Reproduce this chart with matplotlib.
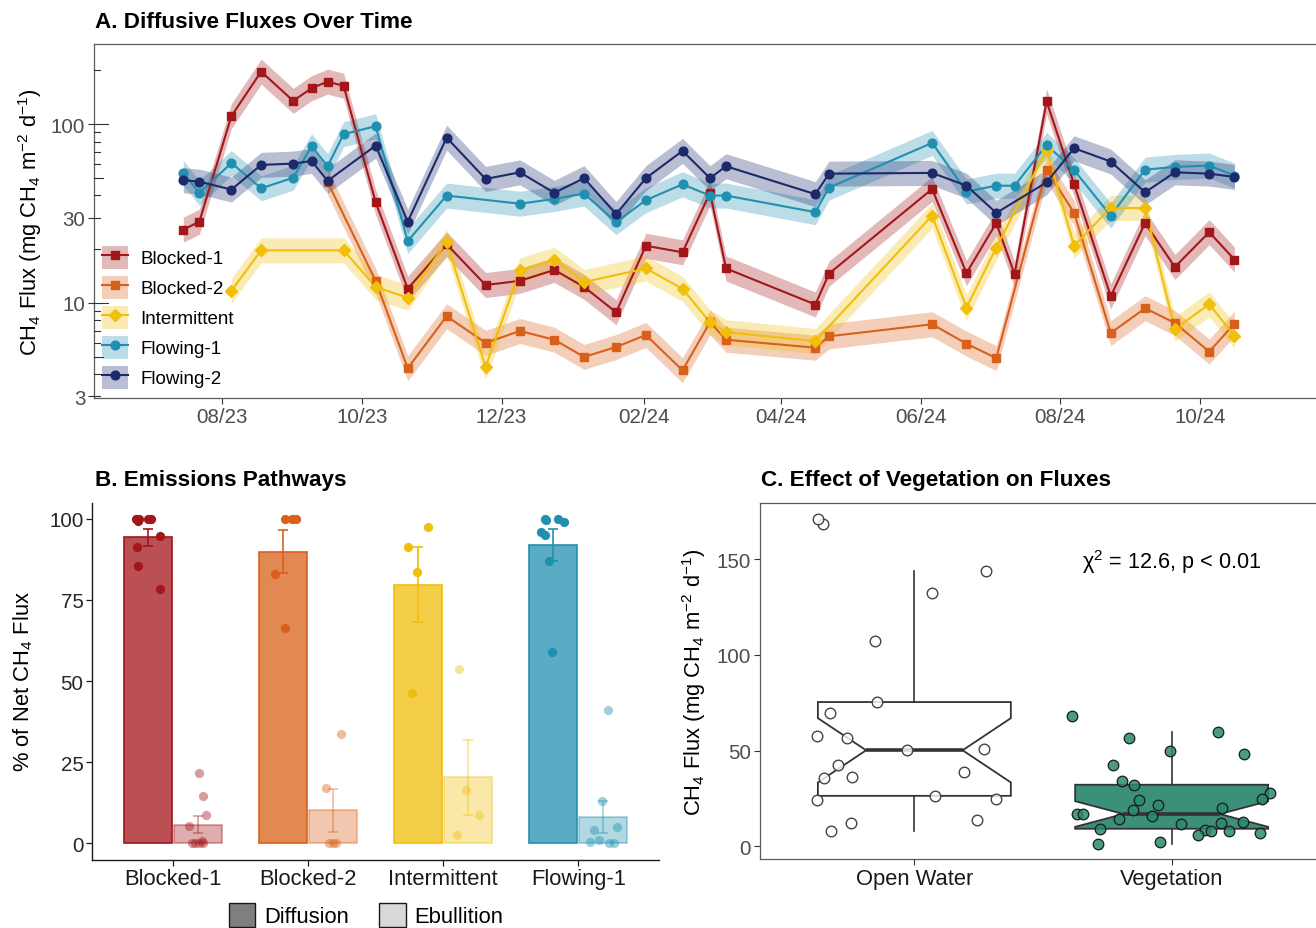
import numpy as np
import matplotlib
matplotlib.use("Agg")
import matplotlib.pyplot as plt
import matplotlib.dates as mdates
import matplotlib.ticker as mticker
from matplotlib.colors import to_rgba
from matplotlib.lines import Line2D
from matplotlib.patches import Patch
from matplotlib.transforms import blended_transform_factory

plt.rcParams["font.family"] = ["Liberation Sans", "DejaVu Sans"]
plt.rcParams["mathtext.fontset"] = "custom"
plt.rcParams["mathtext.rm"] = "Liberation Sans"
plt.rcParams["mathtext.it"] = "Liberation Sans:italic"
plt.rcParams["mathtext.bf"] = "Liberation Sans:bold"
plt.rcParams["mathtext.default"] = "regular"

nan = np.nan

# ---------------------------------------------------------------------------
# A. diffusive CH4 flux per sampling date (mg CH4 m-2 d-1)
# ---------------------------------------------------------------------------
sample_dates = ["2023-07-15", "2023-07-22", "2023-08-05", "2023-08-18", "2023-09-01",
                "2023-09-09", "2023-09-16", "2023-09-23", "2023-10-07", "2023-10-21",
                "2023-11-07", "2023-11-24", "2023-12-09", "2023-12-24", "2024-01-06",
                "2024-01-20", "2024-02-02", "2024-02-18", "2024-03-01", "2024-03-08",
                "2024-04-16", "2024-04-22", "2024-06-06", "2024-06-21", "2024-07-04",
                "2024-07-12", "2024-07-26", "2024-08-07", "2024-08-23", "2024-09-07",
                "2024-09-20", "2024-10-05", "2024-10-16"]

blocked1 = [25.7, 28.5, 111, 197, 135, 159, 173, 164, 36.6, 12.0,
            21.3, 12.6, 13.3, 15.3, 12.3, 8.87, 20.9, 19.2, 41.3, 15.6,
            9.8, 14.6, 43.4, 14.7, 28.0, 14.5, 134, 46.1, 10.9, 28.0,
            15.9, 24.9, 17.5]
blocked2 = [nan, nan, nan, nan, nan, nan, 47.5, nan, 13.3, 4.31,
            8.43, 5.98, 6.97, 6.23, 4.99, 5.67, 6.62, 4.20, 7.80, 6.23,
            5.62, 6.51, 7.60, 5.92, 4.91, nan, 55.7, 31.9, 6.79, 9.34,
            7.73, 5.34, 7.66]
intermittent = [nan, nan, 11.7, 19.7, nan, nan, nan, 19.7, 12.3, 10.7,
                21.9, 4.38, 15.2, 17.5, 13.1, nan, 15.6, 12.0, 7.80, 6.86,
                6.12, nan, 30.8, 9.42, 20.4, nan, 72.1, 20.9, 34.1, 33.9,
                7.16, 9.83, 6.56]
flowing1 = [53.4, 41.3, 60.7, 43.8, 50.2, 75.3, 58.2, 87.9, 97.5, 22.2,
            39.9, nan, 35.9, 38.2, 40.9, 28.3, 37.6, 46.1, 39.9, 39.9,
            32.2, 44.2, 78.6, 42.0, 45.3, 45.3, 76.6, 55.3, 30.8, 55.7,
            57.7, 58.7, 51.6]
flowing2 = [48.6, 47.7, 43.1, 59.2, 60.2, 62.3, 48.2, nan, 75.9, 28.5,
            84.1, 49.4, 53.8, 41.3, 49.9, 31.4, 49.9, 70.9, 49.9, 58.2,
            40.6, 52.9, 53.4, 45.3, 31.9, nan, 47.3, 73.4, 61.8, 41.6,
            53.8, 52.9, 50.7]

site_names = ["Blocked-1", "Blocked-2", "Intermittent", "Flowing-1", "Flowing-2"]
site_colors = ["#A3161A", "#D9601A", "#F1BE0A", "#2190B0", "#1C2A6B"]
site_markers = ["s", "s", "D", "o", "o"]

# ---------------------------------------------------------------------------
# B. share of net flux released by diffusion (%), ebullition is the remainder
# ---------------------------------------------------------------------------
pathway_sites = ["Blocked-1", "Blocked-2", "Intermittent", "Flowing-1"]
blocked1_diffusion = [99.3, 99.8, 100, 99.8, 99.9, 94.7, 91.3, 85.5, 78.3]
blocked2_diffusion = [100, 100, 100, 82.9, 66.4]
intermittent_diffusion = [97.6, 91.2, 83.7, 46.3]
flowing1_diffusion = [100, 100, 99.0, 99.5, 95.9, 94.9, 87.1, 58.8]

# ---------------------------------------------------------------------------
# C. fluxes from open water vs vegetated patches (mg CH4 m-2 d-1)
# ---------------------------------------------------------------------------
habitat_names = ["Open Water", "Vegetation"]
open_water_flux = [168.3, 171.1, 143.9, 132.2, 107.1, 75.4, 69.8, 56.8, 57.5, 50.9,
                   50.2, 42.3, 39.0, 36.2, 35.5, 26.4, 24.9, 24.2, 13.9, 12.2, 8.0]
vegetation_flux = [68.1, 56.8, 59.9, 49.6, 48.1, 42.7, 32.2, 34.0, 27.9, 24.7,
                   24.2, 21.6, 19.1, 19.9, 16.7, 16.9, 15.8, 14.3, 12.9, 12.0,
                   11.7, 8.7, 7.8, 8.2, 6.8, 9.2, 5.7, 1.4, 2.4]
chi_sq = 12.6

rng = np.random.default_rng(11)

W, H = 1316, 929
fig = plt.figure(figsize=(W / 100, H / 100), dpi=100)
fig.patch.set_facecolor("white")


def axes_px(left, top, right, bottom):
    return fig.add_axes([left / W, 1 - bottom / H, (right - left) / W, (bottom - top) / H])


tick_grey = "#4D4D4D"
frame_grey = "#5A5A5A"
tick_size = 14.8
label_size = 15.8
title_size = 16.2

# ---------------------------- panel A --------------------------------------
ax = axes_px(94, 45, 1326, 399)
x_all = np.array(sample_dates, dtype="datetime64[D]")
series = [blocked1, blocked2, intermittent, flowing1, flowing2]
band = 10 ** 0.07

cleaned = []
for vals in series:
    v = np.array(vals, dtype=float)
    ok = ~np.isnan(v)
    cleaned.append((x_all[ok], v[ok]))

for (x, y), col in zip(cleaned, site_colors):
    ax.fill_between(x, y / band, y * band, color=col, alpha=0.3, lw=0, zorder=1)
for (x, y), col in zip(cleaned, site_colors):
    ax.plot(x, y, color=col, lw=1.5, zorder=2)
for (x, y), col, mk in zip(cleaned, site_colors, site_markers):
    ax.plot(x, y, ls="none", marker=mk, ms=6.3 if mk != "D" else 5.8, color=col, zorder=3)

ax.set_yscale("log")
ax.set_ylim(2.94, 281)
ax.set_xlim(np.datetime64("2023-06-06"), np.datetime64("2024-11-25"))
ax.set_yticks([3, 10, 30, 100])
ax.set_yticklabels(["3", "10", "30", "100"])
ax.yaxis.set_minor_locator(mticker.NullLocator())
ax.xaxis.set_major_locator(mdates.MonthLocator(bymonth=[2, 4, 6, 8, 10, 12]))
ax.xaxis.set_major_formatter(mdates.DateFormatter("%m/%y"))
ax.tick_params(length=4.3, width=0.8, color="#333333", labelcolor=tick_grey,
               labelsize=tick_size, pad=2)
for s in ax.spines.values():
    s.set_color(frame_grey)
    s.set_linewidth(0.9)

# log ticks drawn inside the left edge
trans = blended_transform_factory(ax.transAxes, ax.transData)
for dec in [1, 10, 100]:
    for k in range(1, 10):
        v = k * dec
        if v < 2.94 or v > 281:
            continue
        tick_len = 14 if k == 1 else (9 if k == 5 else 5.5)
        ax.plot([0, tick_len / 1232], [v, v], transform=trans, color="#333333",
                lw=0.8, clip_on=False, zorder=4)

legend_handles = []
for col, mk in zip(site_colors, site_markers):
    legend_handles.append((Patch(facecolor=col, alpha=0.3, lw=0),
                           Line2D([], [], color=col, lw=1.5, marker=mk,
                                  ms=6.3 if mk != "D" else 5.8)))
ax.legend(legend_handles, site_names, loc="upper left", bbox_to_anchor=(0.0065, 0.43),
          frameon=False, borderpad=0, borderaxespad=0, handlelength=1.4,
          handleheight=1.5, labelspacing=0.38, handletextpad=0.65, fontsize=13.5)

fig.text(95 / W, 1 - 22.5 / H, "A. Diffusive Fluxes Over Time", fontsize=title_size,
         fontweight="bold", ha="left", va="center")
fig.text(30 / W, 1 - 222 / H, "CH$_4$ Flux (mg CH$_4$ m$^{-2}$ d$^{-1}$)",
         rotation=90, ha="center", va="center", fontsize=label_size)

# ---------------------------- panel B --------------------------------------
axb = axes_px(92.3, 503.5, 659.3, 860.5)
diffusion_sets = [blocked1_diffusion, blocked2_diffusion, intermittent_diffusion,
                  flowing1_diffusion]
for i, (d, col) in enumerate(zip(diffusion_sets, site_colors[:4]), start=1):
    d = np.array(d, dtype=float)
    e = 100 - d
    for vals, off, fill_a, line_a in [(d, -0.185, 0.75, 1.0), (e, 0.185, 0.35, 0.42)]:
        m = vals.mean()
        se = vals.std(ddof=1) / np.sqrt(len(vals))
        axb.bar(i + off, m, width=0.355, facecolor=to_rgba(col, fill_a),
                edgecolor=to_rgba(col, line_a), lw=1.2, zorder=1)
        axb.errorbar(i + off, m, yerr=se, fmt="none", ecolor=to_rgba(col, line_a),
                     elinewidth=1.2, capsize=3.5, capthick=1.2, zorder=2)
        axb.scatter(i + off + rng.uniform(-0.1, 0.1, len(vals)), vals, s=44,
                    color=to_rgba(col, line_a), lw=0, zorder=3)

axb.set_xlim(0.4, 4.6)
axb.set_ylim(-5, 105)
axb.set_xticks(range(1, 5))
axb.set_xticklabels(pathway_sites)
axb.set_yticks([0, 25, 50, 75, 100])
axb.spines["top"].set_visible(False)
axb.spines["right"].set_visible(False)
for s in ["left", "bottom"]:
    axb.spines[s].set_color("#1A1A1A")
    axb.spines[s].set_linewidth(1.0)
axb.tick_params(length=4.3, width=0.9, color="#1A1A1A", pad=2)
axb.tick_params(axis="y", labelsize=tick_size, labelcolor="#262626")
axb.tick_params(axis="x", labelsize=label_size, labelcolor="#1A1A1A")

fig.text(95 / W, 1 - 481 / H, "B. Emissions Pathways", fontsize=title_size,
         fontweight="bold", ha="left", va="center")
fig.text(23 / W, 1 - 681 / H, "% of Net CH$_4$ Flux", rotation=90,
         ha="center", va="center", fontsize=label_size)

fig.legend([Patch(facecolor="#7F7F7F", edgecolor="#1A1A1A", lw=1.0),
            Patch(facecolor="#D9D9D9", edgecolor="#1A1A1A", lw=1.0)],
           ["Diffusion", "Ebullition"], ncol=2, loc="center",
           bbox_to_anchor=(366 / W, 1 - 916 / H), frameon=False, fontsize=label_size,
           handlelength=1.2, handleheight=1.3, handletextpad=0.4, columnspacing=1.4)

# ---------------------------- panel C --------------------------------------
axc = axes_px(760, 504, 1326, 860)
box = axc.boxplot([open_water_flux, vegetation_flux], positions=[1, 2], widths=0.75,
                  notch=True, showcaps=False, showfliers=False, patch_artist=True,
                  whis=1.5,
                  boxprops=dict(edgecolor="#333333", lw=1.3),
                  whiskerprops=dict(color="#333333", lw=1.2),
                  medianprops=dict(color="#333333", lw=2.6))
box["boxes"][0].set_facecolor("white")
box["boxes"][1].set_facecolor("#3C8F78")

ow = np.array(open_water_flux)
vg = np.array(vegetation_flux)
axc.scatter(1 + rng.uniform(-0.4, 0.4, len(ow)), ow, s=58,
            facecolor=to_rgba("white", 0.8), edgecolor="#444444", lw=1.0, zorder=3)
axc.scatter(2 + rng.uniform(-0.4, 0.4, len(vg)), vg, s=58,
            facecolor=to_rgba("#2A8A70", 0.85), edgecolor="#1A1A1A", lw=0.9, zorder=3)

axc.set_xlim(0.4, 2.6)
axc.set_ylim(-6.6, 179.4)
axc.set_xticks([1, 2])
axc.set_xticklabels(habitat_names)
axc.set_yticks([0, 50, 100, 150])
for s in axc.spines.values():
    s.set_color(frame_grey)
    s.set_linewidth(0.9)
axc.tick_params(length=4.3, width=0.8, color="#333333", pad=2)
axc.tick_params(axis="y", labelsize=tick_size, labelcolor=tick_grey)
axc.tick_params(axis="x", labelsize=label_size, labelcolor="#1A1A1A")

axc.text(2.0, 149, "χ$^{2}$ = " + f"{chi_sq:.1f}" + ", p < 0.01", ha="center",
         va="center", fontsize=15.6)

fig.text(761 / W, 1 - 481 / H, "C. Effect of Vegetation on Fluxes", fontsize=title_size,
         fontweight="bold", ha="left", va="center")
fig.text(694 / W, 1 - 682 / H, "CH$_4$ Flux (mg CH$_4$ m$^{-2}$ d$^{-1}$)",
         rotation=90, ha="center", va="center", fontsize=label_size)

fig.savefig("out.png", dpi=100, facecolor="white")
